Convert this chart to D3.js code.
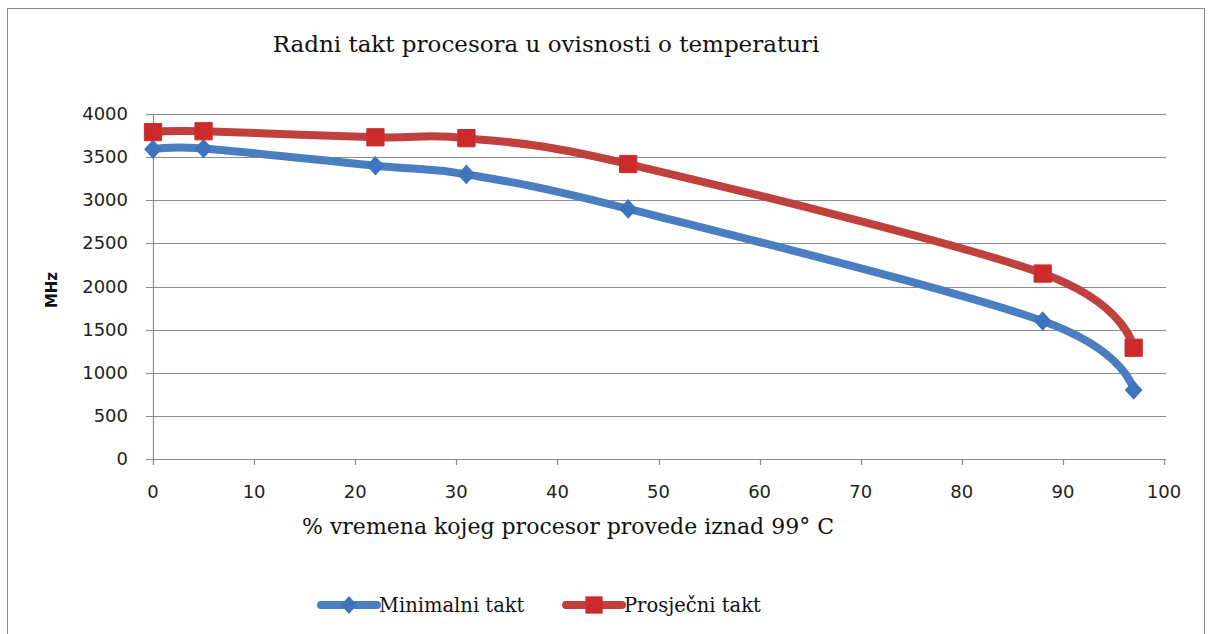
<!doctype html>
<head>
  <meta charset="utf-8">
  <script src="https://cdnjs.cloudflare.com/ajax/libs/d3/7.8.2/d3.min.js"></script>
</head>
<style>
    body { margin: 0; background: white; }
    svg { display: block; }
</style>
<body>
    <div id="chart"></div>
    <script>
        // Datos del gráfico
        const xValues = [0, 5, 22, 31, 47, 88, 97];
        const minTakt = [3590, 3600, 3400, 3300, 2900, 1600, 800];
        const avgTakt = [3790, 3800, 3730, 3720, 3420, 2150, 1290];
        const seriesNames = ["Minimalni takt", "Prosječni takt"];
        const xTicks = [0, 10, 20, 30, 40, 50, 60, 70, 80, 90, 100];
        const yTicks = [0, 500, 1000, 1500, 2000, 2500, 3000, 3500, 4000];

        const width = 1212, height = 634;
        const blue = "#4a7ec0", red = "#c0403d";
        const serif = "'DejaVu Serif', serif";
        const sans = "'DejaVu Sans', sans-serif";

        const svg = d3.select("#chart").append("svg")
            .attr("width", width)
            .attr("height", height);

        // Marco del gráfico
        svg.append("rect")
            .attr("x", 7.5).attr("y", 8.5)
            .attr("width", 1197).attr("height", 640)
            .attr("fill", "white")
            .attr("stroke", "#8a8a8a");

        const x = d3.scaleLinear().domain([0, 100]).range([153, 1164]);
        const y = d3.scaleLinear().domain([0, 4000]).range([459, 114]);

        // Líneas de cuadrícula
        svg.append("g")
            .selectAll("line")
            .data(yTicks)
            .enter()
            .append("line")
            .attr("x1", x(0) - 7).attr("x2", x(100) + 2)
            .attr("y1", (d) => Math.round(y(d)) + 0.5)
            .attr("y2", (d) => Math.round(y(d)) + 0.5)
            .attr("stroke", "#8c8c8c")
            .attr("stroke-width", 1.2);

        // Eje Y
        svg.append("line")
            .attr("x1", x(0) + 0.5).attr("x2", x(0) + 0.5)
            .attr("y1", y(4000)).attr("y2", y(0) + 6)
            .attr("stroke", "#8c8c8c").attr("stroke-width", 1.2);

        svg.append("g")
            .selectAll("text")
            .data(yTicks)
            .enter()
            .append("text")
            .attr("x", 128)
            .attr("y", (d) => y(d) + 6)
            .attr("text-anchor", "end")
            .attr("font-family", sans)
            .attr("font-size", 18)
            .attr("fill", "#222")
            .text((d) => d);

        // Eje X: marcas y etiquetas
        svg.append("g")
            .selectAll("line")
            .data(xTicks)
            .enter()
            .append("line")
            .attr("x1", (d) => Math.round(x(d)) + 0.5)
            .attr("x2", (d) => Math.round(x(d)) + 0.5)
            .attr("y1", y(0)).attr("y2", y(0) + 6)
            .attr("stroke", "#8c8c8c").attr("stroke-width", 1.2);

        svg.append("g")
            .selectAll("text")
            .data(xTicks)
            .enter()
            .append("text")
            .attr("x", (d) => x(d))
            .attr("y", 498)
            .attr("text-anchor", "middle")
            .attr("font-family", sans)
            .attr("font-size", 18)
            .attr("fill", "#222")
            .text((d) => d);

        // Títulos
        svg.append("text")
            .attr("x", 546).attr("y", 52)
            .attr("text-anchor", "middle")
            .attr("font-family", serif)
            .attr("font-size", 23)
            .attr("fill", "#111")
            .text("Radni takt procesora u ovisnosti o temperaturi");

        svg.append("text")
            .attr("x", 568).attr("y", 534)
            .attr("text-anchor", "middle")
            .attr("font-family", serif)
            .attr("font-size", 22)
            .attr("fill", "#111")
            .text("% vremena kojeg procesor provede iznad 99° C");

        svg.append("text")
            .attr("transform", "translate(57,290) rotate(-90)")
            .attr("text-anchor", "middle")
            .attr("font-family", sans)
            .attr("font-weight", "bold")
            .attr("font-size", 15)
            .attr("fill", "#111")
            .text("MHz");

        // Series
        const series = [
            { name: seriesNames[0], values: minTakt, color: blue, marker: "diamond" },
            { name: seriesNames[1], values: avgTakt, color: red, marker: "square" },
        ];

        const line = d3.line()
            .x((d) => x(d[0]))
            .y((d) => y(d[1]))
            .curve(d3.curveCatmullRom.alpha(0));

        const symbolDiamond = d3.symbol().type(d3.symbolDiamond2).size(170);
        const symbolSquare = d3.symbol().type(d3.symbolSquare2).size(380);

        function markerPath(s) {
            return s.marker === "diamond" ? symbolDiamond() : symbolSquare();
        }

        series.forEach((s) => {
            const pts = xValues.map((xv, i) => [xv, s.values[i]]);
            svg.append("path")
                .datum(pts)
                .attr("d", line)
                .attr("fill", "none")
                .attr("stroke", s.color)
                .attr("stroke-width", 8)
                .attr("stroke-linecap", "round");

            svg.append("g")
                .selectAll("path")
                .data(pts)
                .enter()
                .append("path")
                .attr("d", markerPath(s))
                .attr("transform", (d) => `translate(${x(d[0])},${y(d[1])})${s.marker === "diamond" ? " scale(1,1.1)" : ""}`)
                .attr("fill", s.marker === "diamond" ? "#3d74bd" : "#cc2a2a")
                .attr("stroke", s.marker === "diamond" ? "#3d74bd" : "#c83030")
                .attr("stroke-width", 1);
        });

        // Leyenda
        const legend = [
            { s: series[0], x: 321 },
            { s: series[1], x: 566 },
        ];
        legend.forEach((l) => {
            const g = svg.append("g").attr("transform", `translate(${l.x},605)`);
            g.append("line")
                .attr("x1", 0).attr("x2", 56)
                .attr("stroke", l.s.color)
                .attr("stroke-width", 8)
                .attr("stroke-linecap", "round");
            g.append("path")
                .attr("d", markerPath(l.s))
                .attr("transform", `translate(28,0)${l.s.marker === "diamond" ? " scale(1,1.1)" : ""}`)
                .attr("fill", l.s.marker === "diamond" ? "#3d74bd" : "#cc2a2a");
            g.append("text")
                .attr("x", 58).attr("y", 7)
                .attr("font-family", serif)
                .attr("font-size", 19.5)
                .attr("fill", "#111")
                .text(l.s.name);
        });
    </script>
</body>
